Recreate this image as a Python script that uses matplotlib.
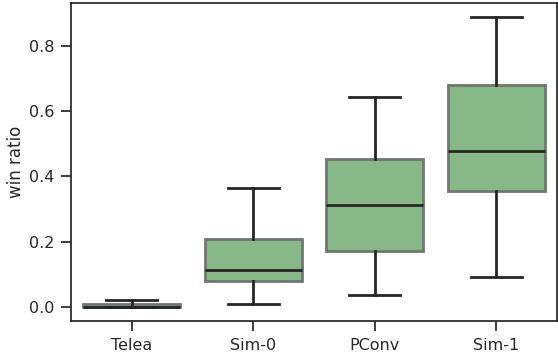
import matplotlib
matplotlib.use("Agg")
import matplotlib.pyplot as plt

methods = ["Telea", "Sim-0", "PConv", "Sim-1"]
whislo = [0.0, 0.008, 0.037, 0.090]
q1 = [0.0, 0.080, 0.170, 0.354]
med = [0.0, 0.114, 0.312, 0.477]
q3 = [0.009, 0.207, 0.453, 0.679]
whishi = [0.021, 0.364, 0.642, 0.890]

text_col = "#262626"
plt.rcParams["font.family"] = "DejaVu Sans"
plt.rcParams["text.color"] = text_col
plt.rcParams["axes.labelcolor"] = text_col
plt.rcParams["xtick.color"] = text_col
plt.rcParams["ytick.color"] = text_col

stats = []
for i, name in enumerate(methods):
    stats.append(dict(label=name, whislo=whislo[i], q1=q1[i], med=med[i],
                      q3=q3[i], whishi=whishi[i], fliers=[]))

fig = plt.figure(figsize=(5.58, 3.58), dpi=100)
ax = fig.add_axes([71 / 558, 1 - 321 / 358, 486 / 558, 318 / 358])

ax.bxp(stats, positions=range(len(methods)), widths=0.8, patch_artist=True,
       showfliers=False,
       boxprops=dict(facecolor="#87b887", edgecolor="#6f786f", linewidth=2),
       medianprops=dict(color=text_col, linewidth=2),
       whiskerprops=dict(color=text_col, linewidth=2),
       capprops=dict(color=text_col, linewidth=2),
       capwidths=0.42)

ax.set_xlim(-0.5, 3.5)
ax.set_ylim(-0.044, 0.932)
ax.set_yticks([0.0, 0.2, 0.4, 0.6, 0.8])
ax.set_ylabel("win ratio", fontsize=12, labelpad=3)
ax.tick_params(labelsize=11.5, length=7, width=1.25, pad=5)
for s in ax.spines.values():
    s.set_linewidth(1.25)
    s.set_color(text_col)

fig.savefig("out.png", dpi=100)
